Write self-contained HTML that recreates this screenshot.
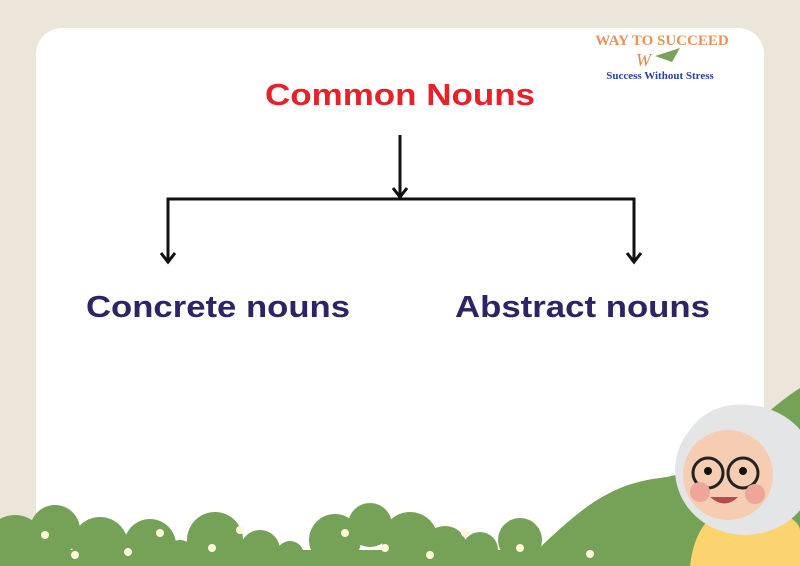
<!DOCTYPE html>
<html><head><meta charset="utf-8"><style>
html,body{margin:0;width:800px;height:566px;overflow:hidden;background:#ebe5da;font-family:"Liberation Sans",sans-serif}
svg{display:block}
</style></head><body>
<svg width="800" height="566" style="position:absolute;left:0;top:0;overflow:hidden">
<rect x="0" y="0" width="800" height="566" fill="#ebe5da"/>
<path d="M62 28 H738 A26 26 0 0 1 764 54 V566 H36 V54 A26 26 0 0 1 62 28 Z" fill="#ffffff"/>
<path d="M520 566 C570 520 600 485 660 478 C720 470 750 420 800 388 L800 566 Z" fill="#76a257"/>
<g fill="#76a257">
<circle cx="15" cy="545" r="30"/><circle cx="55" cy="530" r="25"/><circle cx="100" cy="545" r="28"/><circle cx="150" cy="545" r="26"/><circle cx="180" cy="555" r="15"/>
<circle cx="215" cy="540" r="28"/><circle cx="260" cy="550" r="20"/><circle cx="290" cy="555" r="14"/>
<circle cx="335" cy="540" r="26"/><circle cx="370" cy="525" r="22"/><circle cx="410" cy="540" r="28"/><circle cx="445" cy="548" r="22"/><circle cx="480" cy="550" r="18"/><circle cx="520" cy="540" r="22"/>
<rect x="0" y="550" width="560" height="16"/>
</g>
<g fill="#fff7d8">
<circle cx="45" cy="535" r="4"/><circle cx="75" cy="555" r="4"/><circle cx="128" cy="552" r="4"/><circle cx="160" cy="533" r="4"/><circle cx="212" cy="548" r="4"/><circle cx="240" cy="530" r="4"/><circle cx="345" cy="533" r="4"/><circle cx="385" cy="548" r="4"/><circle cx="430" cy="555" r="4"/><circle cx="465" cy="533" r="4"/><circle cx="520" cy="548" r="4"/><circle cx="590" cy="554" r="4"/>
</g>
<g stroke="#111" stroke-width="3" fill="none">
<path d="M400 135 V197"/><path d="M393 188 L400 197 L407 188"/>
<path d="M168 262 V199 H634 V262"/>
<path d="M161 253 L168 262 L175 253"/><path d="M627 253 L634 262 L641 253"/>
</g>
<text x="265" y="105" textLength="270" lengthAdjust="spacingAndGlyphs" font-size="31" font-weight="bold" fill="#e52229">Common Nouns</text>
<text x="86" y="317" textLength="264" lengthAdjust="spacingAndGlyphs" font-size="31" font-weight="bold" fill="#2d2466">Concrete nouns</text>
<text x="455" y="317" textLength="255" lengthAdjust="spacingAndGlyphs" font-size="31" font-weight="bold" fill="#2d2466">Abstract nouns</text>
<g>
<text x="662" y="45" text-anchor="middle" font-size="15" font-weight="bold" font-family="Liberation Serif,serif" fill="#e8935a">WAY TO SUCCEED</text>
<text x="636" y="66" font-size="18" font-style="italic" font-family="Liberation Serif,serif" fill="#e3874a">W</text>
<path d="M655 56 L680 48 L672 62 Z" fill="#7aa35a"/>
<text x="660" y="79" text-anchor="middle" font-size="11" font-weight="bold" font-family="Liberation Serif,serif" fill="#2443a3">Success Without Stress</text>
</g>
<g>
<path d="M690 566 C695 520 720 505 745 505 C775 505 800 520 800 530 L800 566 Z" fill="#fbd36f"/>
<ellipse cx="745" cy="470" rx="70" ry="65" fill="#e4e5e6"/>
<ellipse cx="728" cy="475" rx="45" ry="45" fill="#f6cdb2"/>
<path d="M685 440 C700 400 760 390 790 430 C770 420 740 430 720 425 C705 422 695 430 685 440 Z" fill="#e4e5e6"/>
<circle cx="708" cy="473" r="15" fill="none" stroke="#222" stroke-width="3"/>
<circle cx="743" cy="473" r="15" fill="none" stroke="#222" stroke-width="3"/>
<circle cx="708" cy="471" r="4" fill="#111"/><circle cx="743" cy="471" r="4" fill="#111"/>
<circle cx="700" cy="492" r="10" fill="#efa69a"/><circle cx="755" cy="494" r="10" fill="#efa69a"/>
<path d="M710 497 Q725 510 738 497 Z" fill="#b34b50"/>
</g>
</svg>
</body></html>
